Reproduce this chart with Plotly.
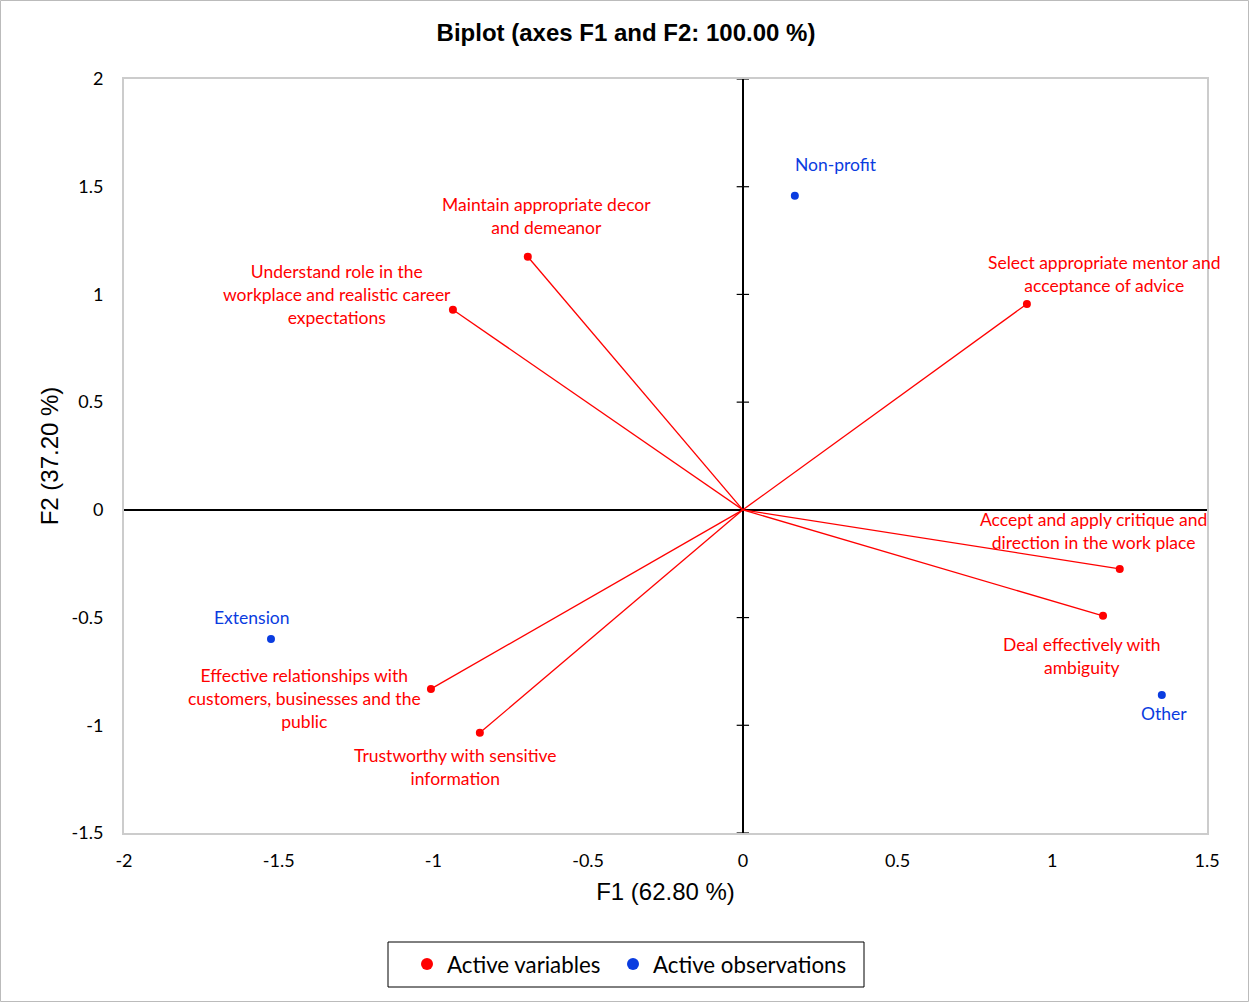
import plotly.graph_objects as go

# ---- data ----
var_names = [
    "Maintain appropriate decor<br>and demeanor",
    "Understand role in the<br>workplace and realistic career<br>expectations",
    "Select appropriate mentor and<br>acceptance of advice",
    "Accept and apply critique and<br>direction in the work place",
    "Deal effectively with<br>ambiguity",
    "Effective relationships with<br>customers, businesses and the<br>public",
    "Trustworthy with sensitive<br>information",
]
var_f1 = [-0.695, -0.937, 0.918, 1.218, 1.164, -1.008, -0.850]
var_f2 = [1.175, 0.929, 0.956, -0.274, -0.492, -0.831, -1.035]

obs_names = ["Non-profit", "Extension", "Other"]
obs_f1 = [0.168, -1.525, 1.354]
obs_f2 = [1.458, -0.599, -0.859]

x_ticks = [-2, -1.5, -1, -0.5, 0, 0.5, 1, 1.5]
y_ticks = [-1.5, -1, -0.5, 0, 0.5, 1, 1.5, 2]

# ---- label offsets (pixels) ----
var_label_shift = [(19, 41), (-116, 15), (78, 30), (-26, 38), (-22, -40), (-126, -10), (-25, -34)]
obs_label_shift = [(41, 31), (-19, 21), (2, -19)]

RED = "#FF0000"
BLUE = "#0A3CE0"
LABEL_FONT = "Lato, 'Open Sans', sans-serif"
TITLE_FONT = "'Liberation Sans', Arial, sans-serif"

PW, PH, ML, MB, MT = 1083, 754, 124, 170, 79

def px_x(p):
    return (p - ML) / PW

def px_y(p):
    return (MT + PH - p) / PH

fig = go.Figure()

# vector lines
lx, ly = [], []
for a, b in zip(var_f1, var_f2):
    lx += [0, a, None]
    ly += [0, b, None]
fig.add_trace(go.Scatter(x=lx, y=ly, mode="lines", line=dict(color=RED, width=1.3),
                         showlegend=False, hoverinfo="skip"))

fig.add_trace(go.Scatter(x=var_f1, y=var_f2, mode="markers", name="Active variables",
                         marker=dict(color=RED, size=8), legend="legend"))
fig.add_trace(go.Scatter(x=obs_f1, y=obs_f2, mode="markers", name="Active observations",
                         marker=dict(color=BLUE, size=8), legend="legend2"))

for name, a, b, (dx, dy) in zip(var_names, var_f1, var_f2, var_label_shift):
    fig.add_annotation(x=a, y=b, text=name, showarrow=False, xshift=dx, yshift=dy,
                       xanchor="center", yanchor="middle", align="center",
                       font=dict(color=RED, size=17.5, family=LABEL_FONT))
for name, a, b, (dx, dy) in zip(obs_names, obs_f1, obs_f2, obs_label_shift):
    fig.add_annotation(x=a, y=b, text=name, showarrow=False, xshift=dx, yshift=dy,
                       xanchor="center", yanchor="middle", align="center",
                       font=dict(color=BLUE, size=17.5, family=LABEL_FONT))

# tick marks crossing the vertical zero axis
for t in y_ticks:
    fig.add_shape(type="line", xref="x", yref="y", x0=-0.02, x1=0.02, y0=t, y1=t,
                  line=dict(color="black", width=1.2), layer="below")

# outer border
fig.add_shape(type="rect", xref="paper", yref="paper",
              x0=px_x(0.5), x1=px_x(1248.5), y0=px_y(1001.5), y1=px_y(0.5),
              line=dict(color="#BBBBBB", width=1))
# legend box
fig.add_shape(type="rect", xref="paper", yref="paper",
              x0=px_x(388), x1=px_x(864), y0=px_y(987), y1=px_y(942),
              line=dict(color="black", width=1))

legend_common = dict(orientation="h", xanchor="left", yanchor="top", y=px_y(943),
                     borderwidth=0, bgcolor="rgba(0,0,0,0)",
                     font=dict(family=LABEL_FONT, size=22.3, color="black"),
                     itemsizing="constant", itemwidth=30)

fig.update_layout(
    width=1250, height=1003,
    margin=dict(l=ML, r=1250 - ML - PW, t=MT, b=MB),
    paper_bgcolor="white", plot_bgcolor="white",
    title=dict(text="<b>Biplot (axes F1 and F2: 100.00 %)</b>", x=626 / 1250, xanchor="center",
               y=1 - 33 / 1003, yanchor="middle",
               font=dict(family=TITLE_FONT, size=24, color="black")),
    xaxis=dict(range=[-2, 1.5], tickvals=x_ticks, ticktext=[f"{v:g}" for v in x_ticks],
               showgrid=False, zeroline=True, zerolinecolor="black", zerolinewidth=2,
               showline=True, linecolor="#CCCCCC", linewidth=2, mirror=True,
               ticks="", ticklabelstandoff=10,
               tickfont=dict(family=LABEL_FONT, size=18, color="black"),
               title=dict(text="F1 (62.80 %)", standoff=14,
                          font=dict(family=TITLE_FONT, size=24, color="black"))),
    yaxis=dict(range=[-1.5, 2], tickvals=y_ticks, ticktext=[f"{v:g}" for v in y_ticks],
               showgrid=False, zeroline=True, zerolinecolor="black", zerolinewidth=2,
               showline=True, linecolor="#CCCCCC", linewidth=2, mirror=True,
               ticks="", ticklabelstandoff=15,
               tickfont=dict(family=LABEL_FONT, size=18, color="black"),
               title=dict(text="F2 (37.20 %)", standoff=6,
                          font=dict(family=TITLE_FONT, size=24, color="black"))),
    legend=dict(x=px_x(407), **legend_common),
    legend2=dict(x=px_x(613), **legend_common),
)

fig.write_html("out.html", config={"displayModeBar": False},
               post_script="document.body.style.margin='0';")
